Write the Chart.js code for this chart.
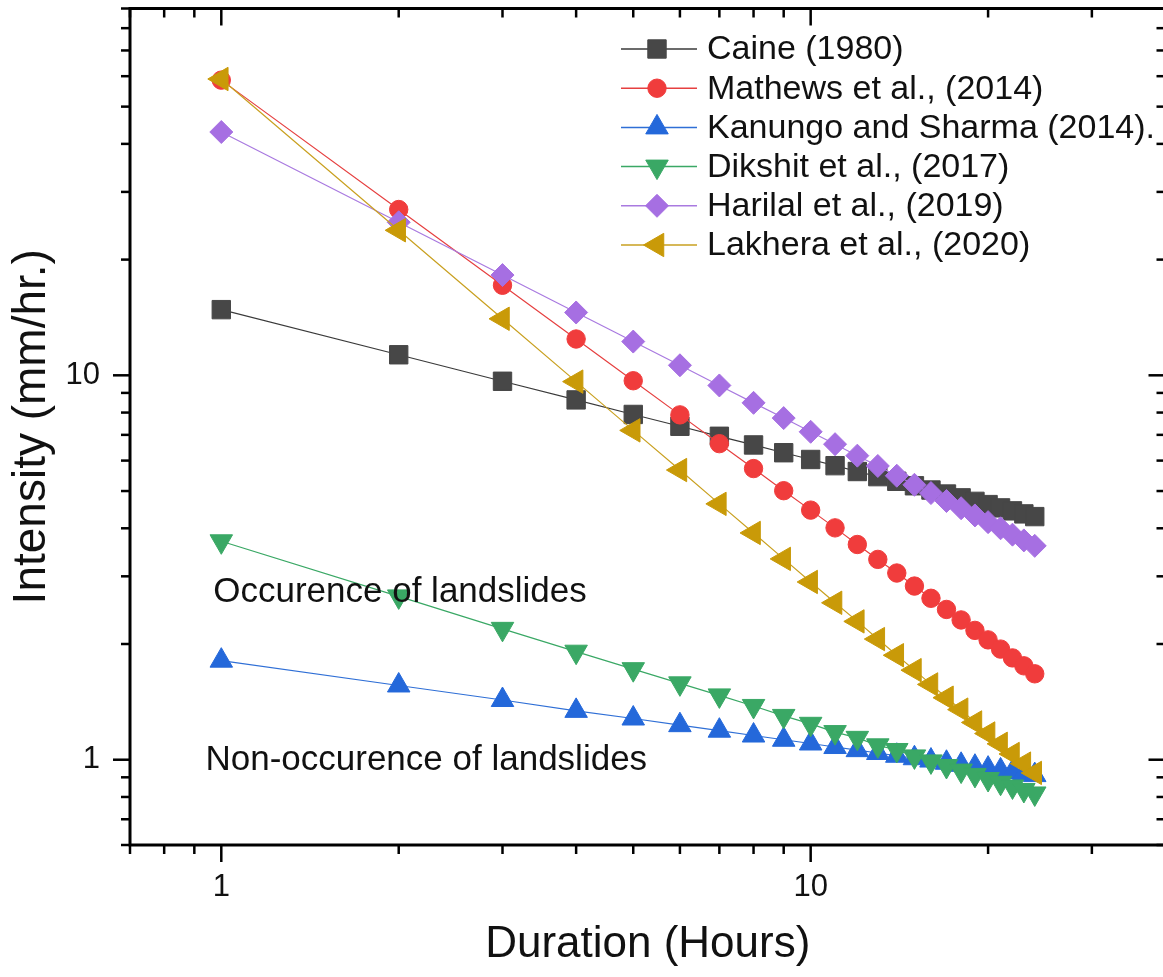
<!DOCTYPE html>
<html><head><meta charset="utf-8">
<script src="https://cdn.jsdelivr.net/npm/chart.js@4.4.1/dist/chart.umd.min.js"></script>
<style>
html,body{margin:0;padding:0;background:#fff;overflow:hidden;}
#wrap{position:relative;width:1180px;height:983px;margin-top:-6px;}
</style></head><body>
<div id="wrap"><canvas id="c" width="1180" height="983"></canvas></div>
<script>
// ---- data ----
const durations = [1,2,3,4,5,6,7,8,9,10,11,12,13,14,15,16,17,18,19,20,21,22,23,24];
const caine    = [14.82,11.31,9.65,8.63,7.91,7.37,6.94,6.59,6.29,6.04,5.82,5.62,5.45,5.30,5.16,5.03,4.91,4.80,4.70,4.61,4.52,4.44,4.36,4.29];
const mathews  = [58.6,27.0,17.15,12.43,9.68,7.89,6.64,5.72,5.01,4.46,4.01,3.63,3.32,3.06,2.83,2.63,2.46,2.31,2.17,2.05,1.94,1.84,1.755,1.673];
const kanungo  = [1.81,1.56,1.43,1.34,1.28,1.23,1.19,1.156,1.127,1.102,1.079,1.059,1.041,1.024,1.009,0.995,0.982,0.970,0.959,0.948,0.938,0.929,0.920,0.912];
const dikshit  = [3.70,2.66,2.19,1.91,1.72,1.58,1.47,1.38,1.30,1.24,1.18,1.14,1.09,1.06,1.02,0.99,0.963,0.937,0.913,0.891,0.871,0.852,0.834,0.817];
const harilal  = [42.95,25.01,18.23,14.57,12.24,10.62,9.41,8.48,7.74,7.13,6.62,6.18,5.81,5.48,5.19,4.94,4.71,4.51,4.32,4.15,4.00,3.85,3.72,3.60];
const lakhera  = [59.0,23.84,14.03,9.63,7.19,5.67,4.63,3.89,3.33,2.90,2.56,2.29,2.06,1.87,1.71,1.57,1.45,1.35,1.25,1.17,1.10,1.035,0.977,0.924];
const seriesNames = ['Caine (1980)','Mathews et al., (2014)','Kanungo and Sharma (2014).','Dikshit et al., (2017)','Harilal et al., (2019)','Lakhera et al., (2020)'];
const xMajorTicks = [1,10];
const xMinorTicks = [0.7,0.8,0.9,2,3,4,5,6,7,8,9,20,30,40];
const yMajorTicks = [1,10];
const yMinorTicks = [0.6,0.7,0.8,0.9,2,3,4,5,6,7,8,9,20,30,40,50,60,70,80,90];
const xTitle = 'Duration (Hours)';
const yTitle = 'Intensity (mm/hr.)';
const noteUpper = 'Occurence of landslides';
const noteLower = 'Non-occurence of landslides';

const FONT = '"Liberation Sans", Arial, sans-serif';
const styles = [
  {color:'#474747', line:'#3a3a3a', pointStyle:'rect', r:13, rot:0},
  {color:'#F03C3C', line:'#E64040', pointStyle:'circle', r:9.2, rot:0},
  {color:'#2468DA', line:'#2F6FD6', pointStyle:'triangle', r:13, rot:0},
  {color:'#3AA865', line:'#3AA865', pointStyle:'triangle', r:13, rot:180},
  {color:'#A66FE2', line:'#A97AE0', pointStyle:'rectRot', r:11.5, rot:0},
  {color:'#C99A08', line:'#C9A020', pointStyle:'triangle', r:13.5, rot:-90}
];
const seriesData = [caine, mathews, kanungo, dikshit, harilal, lakhera];

const datasets = seriesData.map((vals,i)=>({
  label: seriesNames[i],
  data: durations.map((d,k)=>({x:d, y:vals[k]})),
  borderColor: styles[i].line,
  backgroundColor: styles[i].color,
  pointBackgroundColor: styles[i].color,
  pointBorderColor: styles[i].color,
  pointBorderWidth: 1,
  borderWidth: 1.2,
  pointStyle: styles[i].pointStyle,
  pointRadius: styles[i].r,
  pointRotation: styles[i].rot,
  tension: 0,
  order: 6 - i
}));

function drawMarker(ctx, st, x, y){
  const opts = {pointStyle: st.pointStyle, radius: st.r, rotation: st.rot, borderWidth: 1};
  ctx.fillStyle = st.color; ctx.strokeStyle = st.color; ctx.lineWidth = 1;
  if (Chart.helpers && Chart.helpers.drawPoint) { Chart.helpers.drawPoint(ctx, opts, x, y); }
}

const framePlugin = {
  id: 'frame',
  afterDatasetsDraw(chart){
    const {ctx, chartArea:a, scales:{x, y}} = chart;
    ctx.save();
    // annotations
    ctx.fillStyle = '#111';
    ctx.font = '35px ' + FONT;
    ctx.textBaseline = 'middle';
    ctx.textAlign = 'left';
    ctx.fillText(noteUpper, x.getPixelForValue(0.969), y.getPixelForValue(2.73));
    ctx.fillText(noteLower, x.getPixelForValue(0.94), y.getPixelForValue(0.994));
    // legend (canvas is shifted up by 6px)
    const lx1 = 621, lx2 = 697, lmx = 657, ltx = 707, ly0 = 55, ldy = 39.2;
    styles.forEach((st,i)=>{
      const yy = ly0 + i*ldy;
      ctx.strokeStyle = st.line; ctx.lineWidth = 1.5;
      ctx.beginPath(); ctx.moveTo(lx1, yy); ctx.lineTo(lx2, yy); ctx.stroke();
      drawMarker(ctx, st, lmx, yy);
      ctx.fillStyle = '#111';
      ctx.font = '34px ' + FONT;
      ctx.textBaseline = 'middle'; ctx.textAlign = 'left';
      ctx.fillText(seriesNames[i], ltx, yy + 1);
    });
    // frame
    ctx.strokeStyle = '#000';
    ctx.lineWidth = 3;
    ctx.strokeRect(a.left, a.top, a.right - a.left, a.bottom - a.top);
    ctx.lineWidth = 2.5;
    const seg = (x1,y1,x2,y2)=>{ctx.beginPath();ctx.moveTo(x1,y1);ctx.lineTo(x2,y2);ctx.stroke();};
    const MJ = 17, MN = 9;
    xMajorTicks.forEach(v=>{const p=x.getPixelForValue(v); seg(p,a.bottom,p,a.bottom+MJ); seg(p,a.top,p,a.top+MJ);});
    xMinorTicks.forEach(v=>{const p=x.getPixelForValue(v); seg(p,a.bottom,p,a.bottom+MN); seg(p,a.top,p,a.top+MN);});
    yMajorTicks.forEach(v=>{const p=y.getPixelForValue(v); seg(a.left-MJ,p,a.left,p); seg(a.right-MJ,p,a.right,p);});
    yMinorTicks.forEach(v=>{const p=y.getPixelForValue(v); seg(a.left-MN,p,a.left,p); seg(a.right-MN,p,a.right,p);});
    ctx.restore();
  }
};

new Chart(document.getElementById('c'), {
  type: 'line',
  data: { datasets },
  options: {
    responsive: false,
    devicePixelRatio: 1,
    animation: false,
    layout: { padding: { top: 2, right: 12, left: 0, bottom: 0 } },
    plugins: { legend: { display: false }, tooltip: { enabled: false } },
    scales: {
      x: {
        type: 'logarithmic', min: 0.7, max: 40,
        afterBuildTicks: s => { s.ticks = xMajorTicks.map(v=>({value:v})); },
        afterFit: s => { s.height = 132; s.paddingLeft = 0; s.paddingRight = 0; },
        grid: { display: false, drawTicks: false, tickLength: 0 },
        border: { display: false },
        ticks: { padding: 24, color: '#111', font: { family: FONT, size: 31 }, maxRotation: 0, autoSkip: false,
                 callback: v => String(v) },
        title: { display: true, text: xTitle, color: '#111', font: { family: FONT, size: 44 }, padding: { top: 0, bottom: 6 } }
      },
      y: {
        type: 'logarithmic', min: 0.6, max: 90,
        afterBuildTicks: s => { s.ticks = yMajorTicks.map(v=>({value:v})); },
        afterFit: s => { s.width = 130; s.paddingTop = 0; s.paddingBottom = 0; },
        grid: { display: false, drawTicks: false, tickLength: 0 },
        border: { display: false },
        ticks: { padding: 30, color: '#111', font: { family: FONT, size: 31 }, autoSkip: false,
                 callback: v => String(v) },
        title: { display: true, text: yTitle, color: '#111', font: { family: FONT, size: 46 }, padding: { top: 5, bottom: 0 } }
      }
    }
  },
  plugins: [framePlugin]
});
</script>
</body></html>
